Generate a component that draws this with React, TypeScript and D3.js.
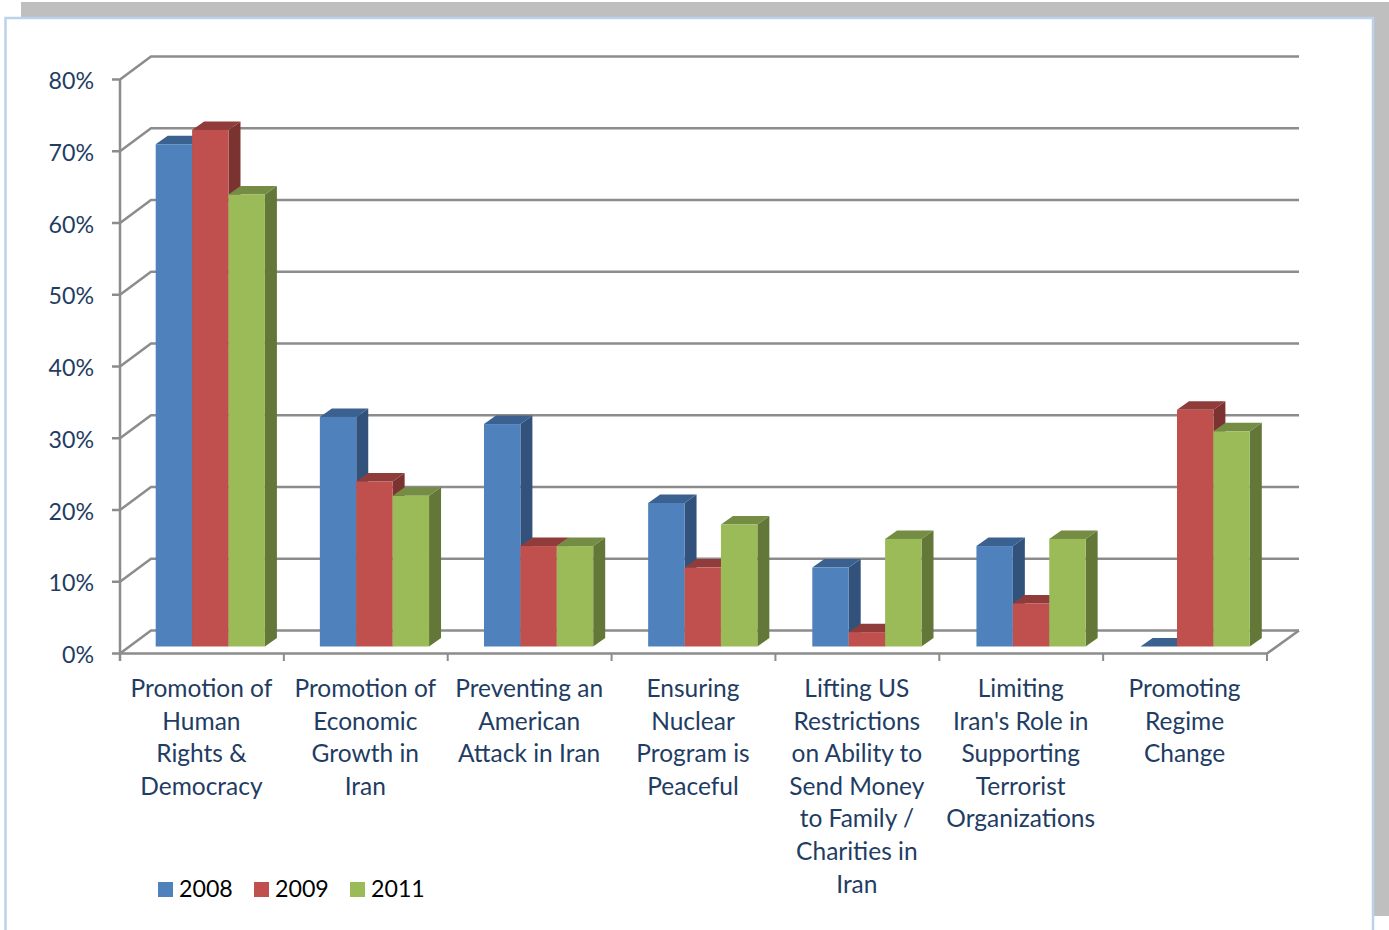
import React from "react";
import * as d3 from "d3";

const categories = [
  ["Promotion of", "Human", "Rights &", "Democracy"],
  ["Promotion of", "Economic", "Growth in", "Iran"],
  ["Preventing an", "American", "Attack in Iran"],
  ["Ensuring", "Nuclear", "Program is", "Peaceful"],
  ["Lifting US", "Restrictions", "on Ability to", "Send Money", "to Family /", "Charities in", "Iran"],
  ["Limiting", "Iran's Role in", "Supporting", "Terrorist", "Organizations"],
  ["Promoting", "Regime", "Change"],
];
const seriesNames = ["2008", "2009", "2011"];
const values2008 = [70, 32, 31, 20, 11, 14, 0];
const values2009 = [72, 23, 14, 11, 2, 6, 33];
const values2011 = [63, 21, 14, 17, 15, 15, 30];
const seriesValues = [values2008, values2009, values2011];
const ticks = [0, 10, 20, 30, 40, 50, 60, 70, 80];

const front = ["#4f81bd", "#c0504d", "#9bbb59"];
const top = ["#3b6190", "#903c3a", "#748c43"];
const side = ["#32527b", "#7a3331", "#637738"];
const axisColor = "#8c8c8c";
const textColor = "#1f3d63";
const font = "Lato, sans-serif";

const x = d3.scaleLinear().domain([0, 7]).range([120, 1267]);
const barX = d3.scaleLinear().domain([0, 6]).range([155.7, 1140.6]);
const y = d3.scaleLinear().domain([0, 80]).range([653.5, 79.5]);
const barH = d3.scaleLinear().domain([0, 80]).range([0, 574]);
const pts = (p: number[][]) => p.map((q) => q.join(",")).join(" ");

const backDx = 31, backDy = -23;
const baseY = 646.5, depthDx = 12, depthDy = -8.5;
const barW = 36.4;

export default function App() {
  return (
    <svg width={1389} height={930} style={{ position: "absolute", left: 0, top: 0, background: "#fff" }}>
      <rect x={21} y={2} width={1368} height={914} fill="#bfbfbf" />
      <rect x={5.5} y={18} width={1367.5} height={930} fill="#fff" stroke="#bcd2ea" strokeWidth={2.5} />

      {ticks.map((t) => (
        <g key={t}>
          <polyline
            points={pts([[112, y(t)], [120, y(t)], [120 + backDx, y(t) + backDy], [1299, y(t) + backDy]])}
            fill="none" stroke={axisColor} strokeWidth={2.5} />
          <text x={94} y={y(t) + 9.5} textAnchor="end" fontFamily={font} fontSize={23.2} fill={textColor}>{t}%</text>
        </g>
      ))}
      <line x1={120} x2={120} y1={y(80)} y2={661} stroke={axisColor} strokeWidth={2.5} />
      <polyline points={pts([[120, y(0)], [1267, y(0)], [1299, y(0) + backDy]])} fill="none" stroke={axisColor} strokeWidth={2.5} />
      {d3.range(1, 8).map((i) => (
        <line key={i} x1={x(i)} x2={x(i)} y1={y(0)} y2={661} stroke={axisColor} strokeWidth={2} />
      ))}

      {categories.map((_, c) =>
        seriesValues.map((vals, s) => {
          const x0 = barX(c) + s * barW;
          const x1 = x0 + barW;
          const yt = baseY - barH(vals[c]);
          return (
            <g key={`${c}-${s}`}>
              <polygon points={pts([[x1, yt], [x1 + depthDx, yt + depthDy], [x1 + depthDx, baseY + depthDy], [x1, baseY]])} fill={side[s]} />
              <polygon points={pts([[x0, yt], [x0 + depthDx, yt + depthDy], [x1 + depthDx, yt + depthDy], [x1, yt]])} fill={top[s]} />
              {vals[c] > 0 && <rect x={x0} y={yt} width={barW} height={baseY - yt} fill={front[s]} />}
            </g>
          );
        })
      )}

      {categories.map((lines, c) => (
        <text key={c} textAnchor="middle" fontFamily={font} fontSize={24.5} fill={textColor}>
          {lines.map((l, i) => (
            <tspan key={i} x={(x(c) + x(c + 1)) / 2 - 0.5} y={697 + i * 32.6}>{l}</tspan>
          ))}
        </text>
      ))}

      {seriesNames.map((n, i) => (
        <g key={n}>
          <rect x={158 + i * 96} y={882} width={15} height={15} fill={front[i]} />
          <text x={179 + i * 96} y={897} fontFamily={font} fontSize={23.2} fill="#000">{n}</text>
        </g>
      ))}
    </svg>
  );
}
